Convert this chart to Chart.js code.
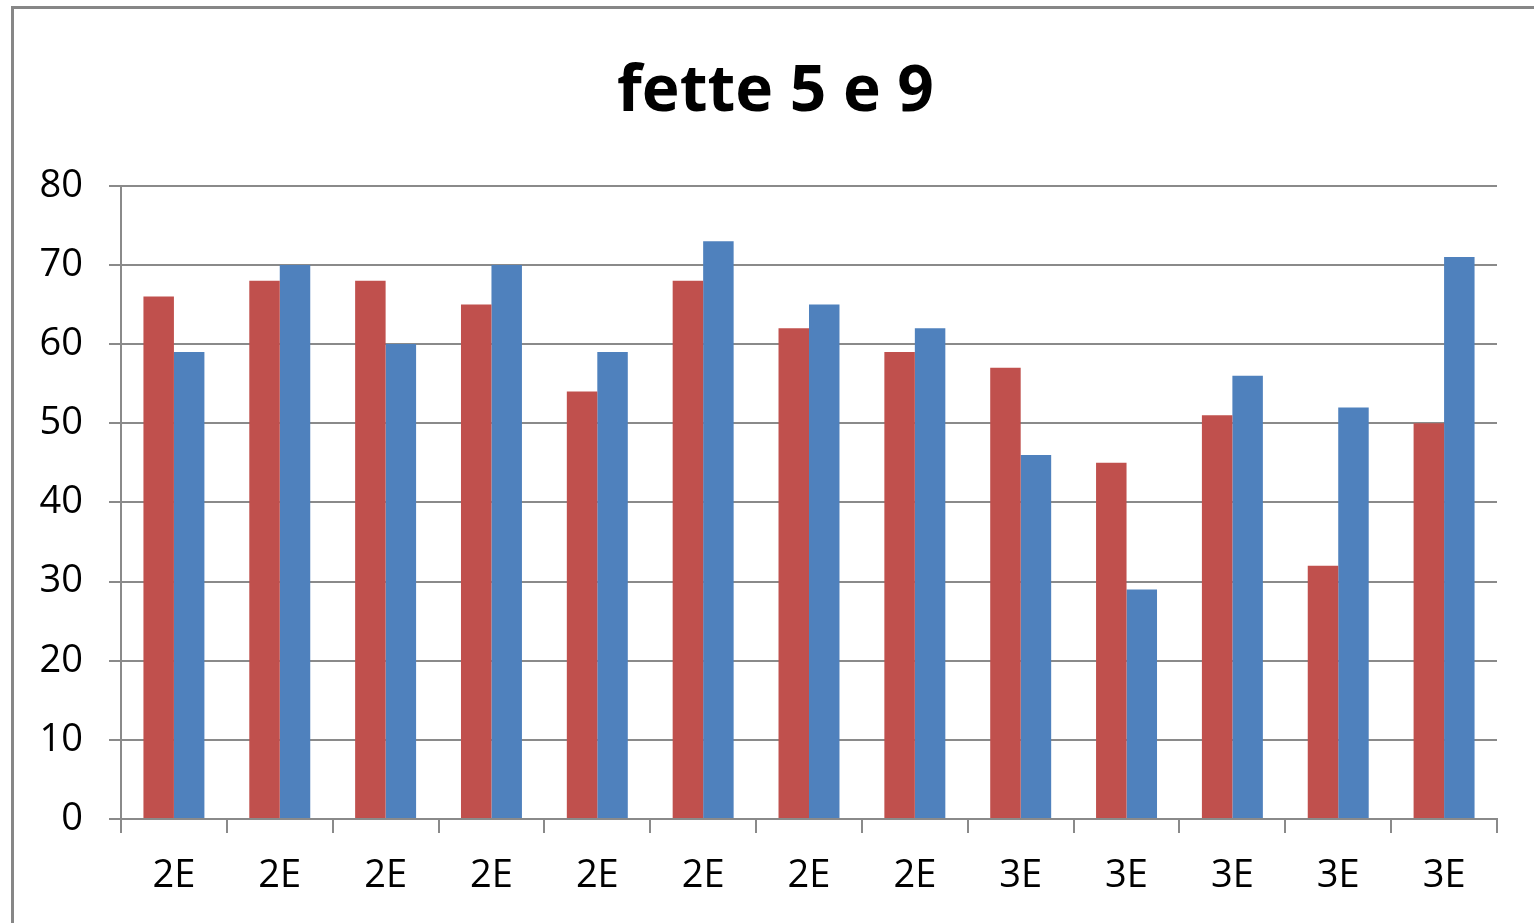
<!DOCTYPE html>
<html>
<head>
<meta charset="utf-8">
<title>fette 5 e 9</title>
<script src="https://cdn.jsdelivr.net/npm/chart.js@4"></script>
<style>
  html, body { margin: 0; padding: 0; background: #fff; overflow: hidden; }
  #wrap { position: relative; width: 1534px; height: 923px; }
  #frame {
    position: absolute; left: 11px; top: 6px; width: 1600px; height: 1000px;
    border-top: 3px solid #878787; border-left: 3px solid #878787;
    pointer-events: none;
  }
</style>
</head>
<body>
<div id="wrap">
  <canvas id="chart" width="1534" height="923"></canvas>
  <div id="frame"></div>
</div>
<script>
// data
const categories = ['2E', '2E', '2E', '2E', '2E', '2E', '2E', '2E', '3E', '3E', '3E', '3E', '3E'];
const redValues  = [66, 68, 68, 65, 54, 68, 62, 59, 57, 45, 51, 32, 50];
const blueValues = [59, 70, 60, 70, 59, 73, 65, 62, 46, 29, 56, 52, 71];
const yTicks = [0, 10, 20, 30, 40, 50, 60, 70, 80];

const gridColor = '#8a8a8a';
const fontFamily = "'Open Sans', 'DejaVu Sans', sans-serif";

// the title sits a bit right of the page centre, nudge its box
const shiftTitle = {
  id: 'shiftTitle',
  afterLayout(chart) {
    const t = chart.titleBlock;
    if (t) {
      t.left += 42;
      t.width -= 42;
    }
  }
};

const ctx = document.getElementById('chart').getContext('2d');

const chart = new Chart(ctx, {
  type: 'bar',
  data: {
    labels: categories,
    datasets: [
      {
        label: 'fetta 5',
        data: redValues,
        backgroundColor: '#C0504D',
        borderWidth: 0,
        categoryPercentage: 0.576,
        barPercentage: 1.0
      },
      {
        label: 'fetta 9',
        data: blueValues,
        backgroundColor: '#4F81BD',
        borderWidth: 0,
        categoryPercentage: 0.576,
        barPercentage: 1.0
      }
    ]
  },
  plugins: [shiftTitle],
  options: {
    responsive: false,
    animation: false,
    layout: {
      padding: { left: 12, right: 37, top: 10, bottom: 0 }
    },
    plugins: {
      legend: { display: false },
      tooltip: { enabled: false },
      title: {
        display: true,
        text: 'fette 5 e 9',
        color: '#000',
        font: { family: fontFamily, size: 64, weight: 'bold' },
        padding: { top: 44, bottom: 55 }
      }
    },
    scales: {
      x: {
        offset: true,
        grid: {
          offset: true,
          drawOnChartArea: false,
          drawTicks: true,
          tickLength: 14,
          color: gridColor,
          lineWidth: 2
        },
        border: { display: true, color: gridColor, width: 2 },
        ticks: {
          color: '#000',
          font: { family: fontFamily, size: 38 },
          padding: 20,
          maxRotation: 0,
          autoSkip: false
        },
        afterFit: (scale) => { scale.height = 104; }
      },
      y: {
        min: 0,
        max: 80,
        afterBuildTicks: (scale) => {
          scale.ticks = yTicks.map(v => ({ value: v }));
        },
        grid: {
          color: gridColor,
          lineWidth: 2,
          tickLength: 12
        },
        border: { display: true, color: gridColor, width: 2 },
        ticks: {
          color: '#000',
          font: { family: fontFamily, size: 38 },
          padding: 26
        },
        afterFit: (scale) => { scale.width = 109; }
      }
    }
  }
});
</script>
</body>
</html>
